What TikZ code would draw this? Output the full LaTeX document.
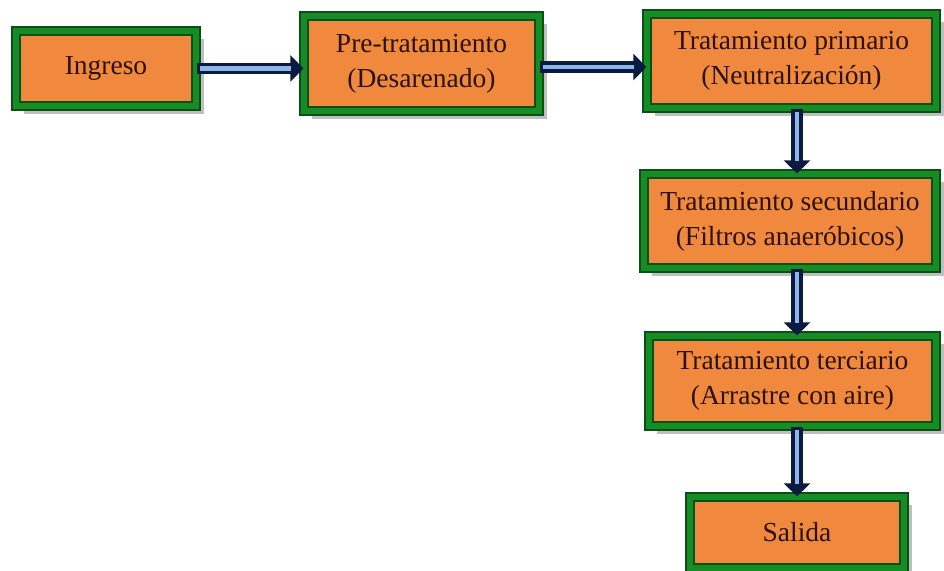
\documentclass[tikz,border=0pt]{standalone}
\usepackage{fontspec}
\setmainfont{Liberation Serif}
\usepackage{xcolor}
\usetikzlibrary{arrows.meta,positioning,calc,shadows}

\definecolor{naranja}{HTML}{F0893E}
\definecolor{verde}{HTML}{168C25}
\definecolor{verdeosc}{HTML}{0A4F14}
\definecolor{azulosc}{HTML}{0B1A40}
\definecolor{azulcl}{HTML}{8FB4E8}
\definecolor{texto}{HTML}{2A1208}

\tikzset{
  caja/.style={draw=verdeosc, double=verde, double distance=6.5pt, line width=1.3pt,
    fill=naranja, text=texto, align=center, inner sep=0pt,
    font=\fontsize{27.5}{35}\selectfont,
    drop shadow={shadow xshift=7.5pt, shadow yshift=-7.5pt, fill=black!50}},
  flecha/.style={draw=azulosc, line width=11.5pt, -{Triangle[length=13pt,width=26pt]},
    postaction={draw=azulcl, line width=4.5pt, -, shorten >=12pt, shorten <=3pt}}
}

\begin{document}
\begin{tikzpicture}[x=1pt, y=-1pt]

  \useasboundingbox (0,0) rectangle (944,570);

  % Cajas del proceso
  \node[caja, minimum width=180pt, minimum height=75pt] (ingreso) at (106,68.5) {Ingreso};
  \node[caja, minimum width=235pt, minimum height=95pt] (pretrat) at (421.5,63.5) {Pre-tratamiento\\(Desarenado)};
  \node[caja, minimum width=289pt, minimum height=94pt] (primario) at (791.5,61) {Tratamiento primario\\(Neutralización)};
  \node[caja, minimum width=292pt, minimum height=94pt] (secundario) at (790,221) {Tratamiento secundario\\(Filtros anaeróbicos)};
  \node[caja, minimum width=287pt, minimum height=90pt] (terciario) at (792.5,381) {Tratamiento terciario\\(Arrastre con aire)};
  \node[caja, minimum width=214pt, minimum height=71pt] (salida) at (797,532.5) {Salida};

  % Flechas
  \draw[flecha] (ingreso.east) -- (ingreso.east -| pretrat.west);
  \draw[flecha] ([yshift=-3.5pt]pretrat.east) -- ([yshift=-3.5pt]pretrat.east -| primario.west);
  \draw[flecha] (primario.south -| salida) -- (secundario.north -| salida);
  \draw[flecha] (secundario.south -| salida) -- (terciario.north -| salida);
  \draw[flecha] (terciario.south -| salida) -- (salida.north);

\end{tikzpicture}
\end{document}
